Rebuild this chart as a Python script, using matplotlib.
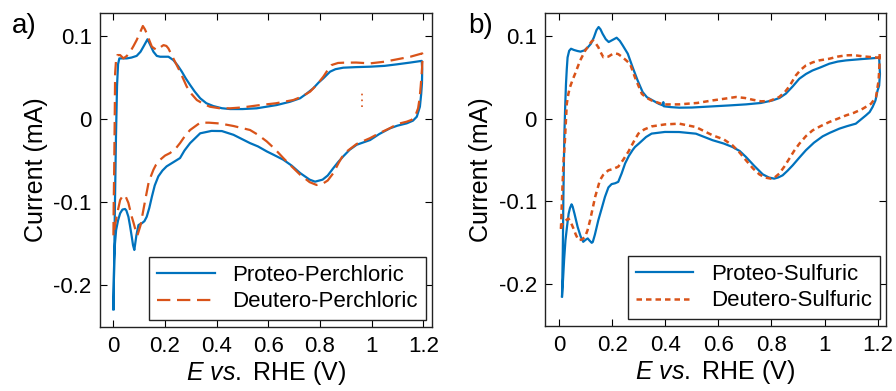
import numpy as np
import matplotlib
matplotlib.use("Agg")
import matplotlib.pyplot as plt

plt.rcParams['font.family'] = ['Liberation Sans', 'DejaVu Sans']
plt.rcParams['mathtext.fontset'] = 'custom'
plt.rcParams['mathtext.rm'] = 'Liberation Sans'
plt.rcParams['mathtext.it'] = 'Liberation Sans:italic'

# ---------------- data (E in V vs RHE, current in mA) ----------------
# Panel a: perchloric
a_proteo = [
    (0.000, -0.229), (0.003, -0.17), (0.006, -0.10), (0.010, -0.02), (0.014, 0.04),
    (0.018, 0.066), (0.023, 0.073), (0.035, 0.073), (0.052, 0.073), (0.07, 0.074),
    (0.09, 0.076), (0.105, 0.081), (0.116, 0.087), (0.132, 0.096), (0.143, 0.089),
    (0.155, 0.081), (0.168, 0.076), (0.181, 0.075), (0.2, 0.075), (0.213, 0.075),
    (0.232, 0.071), (0.25, 0.064), (0.265, 0.057), (0.28, 0.049), (0.297, 0.041),
    (0.315, 0.033), (0.336, 0.025), (0.36, 0.019), (0.387, 0.0156), (0.42, 0.013),
    (0.452, 0.012), (0.5, 0.012), (0.555, 0.0129), (0.632, 0.0168), (0.684, 0.0208),
    (0.723, 0.025), (0.75, 0.031), (0.774, 0.037), (0.795, 0.044), (0.813, 0.049),
    (0.839, 0.057), (0.86, 0.060), (0.89, 0.0618), (0.94, 0.0625), (0.994, 0.063),
    (1.05, 0.064), (1.097, 0.0658), (1.15, 0.068), (1.194, 0.070),
    (1.196, 0.060), (1.195, 0.043), (1.192, 0.03), (1.187, 0.0148), (1.175, 0.0028),
    (1.16, -0.002), (1.136, -0.0052), (1.1, -0.008), (1.071, -0.0112), (1.03, -0.018),
    (0.994, -0.0253), (0.942, -0.031), (0.915, -0.037), (0.89, -0.045), (0.87, -0.052),
    (0.852, -0.059), (0.83, -0.068), (0.81, -0.073), (0.781, -0.0754), (0.76, -0.073),
    (0.723, -0.065), (0.69, -0.056), (0.658, -0.049), (0.62, -0.043), (0.594, -0.039),
    (0.56, -0.033), (0.529, -0.029), (0.465, -0.019), (0.42, -0.0145), (0.38, -0.0143),
    (0.336, -0.0172), (0.297, -0.029), (0.275, -0.038), (0.258, -0.047), (0.232, -0.052),
    (0.206, -0.057), (0.19, -0.062), (0.174, -0.069), (0.16, -0.08), (0.149, -0.0935),
    (0.139, -0.107), (0.129, -0.1176), (0.12, -0.123), (0.11, -0.1255), (0.097, -0.1276),
    (0.089, -0.14), (0.081, -0.1576), (0.076, -0.152), (0.071, -0.1416), (0.064, -0.128),
    (0.058, -0.1176), (0.05, -0.110), (0.045, -0.1083), (0.035, -0.109), (0.026, -0.1135),
    (0.018, -0.122), (0.0105, -0.1336), (0.006, -0.15), (0.003, -0.17), (0.0, -0.229),
]
a_deutero = [
    (0.0, -0.14), (0.001, -0.105), (0.003, -0.06), (0.005, 0.0), (0.0066, 0.055),
    (0.01, 0.07), (0.0155, 0.077), (0.026, 0.077), (0.039, 0.073), (0.052, 0.076),
    (0.065, 0.081), (0.078, 0.088), (0.09, 0.095), (0.103, 0.104), (0.114, 0.112),
    (0.122, 0.108), (0.129, 0.103), (0.14, 0.094), (0.149, 0.087), (0.168, 0.083),
    (0.18, 0.086), (0.194, 0.089), (0.205, 0.088), (0.213, 0.085), (0.232, 0.073),
    (0.258, 0.057), (0.284, 0.039), (0.303, 0.030), (0.323, 0.0229), (0.35, 0.018),
    (0.374, 0.0148), (0.41, 0.013), (0.452, 0.0129), (0.5, 0.014), (0.568, 0.0168),
    (0.63, 0.019), (0.697, 0.0229), (0.73, 0.027), (0.762, 0.033), (0.79, 0.042),
    (0.813, 0.051), (0.83, 0.059), (0.845, 0.065), (0.87, 0.0675), (0.89, 0.0678),
    (0.94, 0.068), (0.994, 0.067), (1.05, 0.069), (1.097, 0.0718), (1.15, 0.075),
    (1.196, 0.079),
    (1.197, 0.07), (1.194, 0.055), (1.19, 0.039), (1.186, 0.025), (1.18, 0.0129),
    (1.168, 0.0028), (1.155, -0.001), (1.136, -0.0032), (1.1, -0.006), (1.071, -0.011),
    (1.03, -0.017), (0.994, -0.023), (0.942, -0.030), (0.904, -0.039), (0.885, -0.046),
    (0.872, -0.053), (0.852, -0.065), (0.83, -0.074), (0.81, -0.078), (0.787, -0.0794),
    (0.76, -0.076), (0.723, -0.067), (0.69, -0.057), (0.658, -0.047), (0.625, -0.036),
    (0.594, -0.027), (0.56, -0.019), (0.529, -0.0132), (0.465, -0.0084), (0.413, -0.0054),
    (0.37, -0.0044), (0.336, -0.0044), (0.297, -0.0132), (0.278, -0.02), (0.258, -0.029),
    (0.24, -0.036), (0.219, -0.041), (0.2, -0.044), (0.181, -0.049), (0.165, -0.055),
    (0.155, -0.061), (0.145, -0.069), (0.136, -0.077), (0.126, -0.093), (0.116, -0.1095),
    (0.105, -0.128), (0.093, -0.14), (0.085, -0.133), (0.078, -0.125), (0.071, -0.1176),
    (0.058, -0.101), (0.045, -0.0915), (0.035, -0.093), (0.026, -0.0975), (0.018, -0.109),
    (0.01, -0.1215), (0.004, -0.132), (0.0, -0.14),
]
a_deutero_stray = [(0.962, 0.014), (0.962, 0.033)]

# Panel b: sulfuric
b_proteo = [
    (0.01, -0.2145), (0.013, -0.16), (0.015, -0.0986), (0.017, -0.055), (0.019, -0.018),
    (0.022, 0.015), (0.025, 0.042), (0.028, 0.06), (0.031, 0.074), (0.037, 0.082),
    (0.044, 0.0845), (0.055, 0.083), (0.069, 0.0817), (0.08, 0.081), (0.094, 0.0825),
    (0.107, 0.086), (0.119, 0.0905), (0.13, 0.098), (0.14, 0.107), (0.148, 0.1107),
    (0.155, 0.108), (0.163, 0.1026), (0.175, 0.096), (0.186, 0.0926), (0.2, 0.095),
    (0.216, 0.0978), (0.228, 0.094), (0.239, 0.0885), (0.258, 0.0785), (0.276, 0.0624),
    (0.295, 0.0463), (0.314, 0.0322), (0.33, 0.026), (0.352, 0.0221), (0.375, 0.018),
    (0.39, 0.0161), (0.392, 0.020), (0.394, 0.015), (0.42, 0.014), (0.452, 0.0133),
    (0.5, 0.0135), (0.578, 0.0149), (0.64, 0.016), (0.704, 0.0173), (0.76, 0.019),
    (0.804, 0.0221), (0.83, 0.025), (0.854, 0.0302), (0.88, 0.039), (0.905, 0.0483),
    (0.93, 0.054), (0.955, 0.0583), (0.985, 0.062), (1.018, 0.0664), (1.05, 0.069),
    (1.081, 0.0704), (1.14, 0.072), (1.206, 0.0736),
    (1.209, 0.054), (1.206, 0.04), (1.2, 0.034), (1.192, 0.022), (1.181, 0.014),
    (1.17, 0.008), (1.156, 0.004), (1.118, -0.006), (1.085, -0.009), (1.056, -0.012),
    (1.02, -0.017), (0.993, -0.0213), (0.96, -0.029), (0.93, -0.038), (0.905, -0.047),
    (0.88, -0.0563), (0.86, -0.063), (0.842, -0.0684), (0.825, -0.071), (0.81, -0.0724),
    (0.79, -0.071), (0.767, -0.0672), (0.735, -0.057), (0.704, -0.0463), (0.68, -0.039),
    (0.653, -0.0342), (0.62, -0.03), (0.578, -0.026), (0.515, -0.0181), (0.452, -0.0161),
    (0.398, -0.016), (0.348, -0.018), (0.327, -0.0221), (0.3, -0.03), (0.285, -0.0342),
    (0.276, -0.038), (0.262, -0.045), (0.248, -0.054), (0.235, -0.066), (0.222, -0.0763),
    (0.21, -0.078), (0.197, -0.079), (0.185, -0.083), (0.172, -0.0944), (0.16, -0.108),
    (0.147, -0.1225), (0.134, -0.14), (0.126, -0.1489), (0.122, -0.1499), (0.113, -0.1469),
    (0.107, -0.1446), (0.1, -0.146), (0.09, -0.1487), (0.08, -0.142), (0.069, -0.1308),
    (0.057, -0.1147), (0.05, -0.106), (0.046, -0.1034), (0.04, -0.108), (0.035, -0.1147),
    (0.029, -0.13), (0.023, -0.1469), (0.018, -0.17), (0.013, -0.1992), (0.01, -0.2145),
]
b_deutero = [
    (0.006, -0.133), (0.009, -0.105), (0.012, -0.08), (0.016, -0.05), (0.021, -0.026),
    (0.028, 0.018), (0.034, 0.03), (0.04, 0.038), (0.05, 0.047), (0.059, 0.054),
    (0.078, 0.070), (0.097, 0.082), (0.11, 0.088), (0.122, 0.0935), (0.128, 0.0943),
    (0.137, 0.091), (0.147, 0.0863), (0.156, 0.08), (0.166, 0.0742), (0.185, 0.075),
    (0.2, 0.078), (0.21, 0.079), (0.222, 0.078), (0.235, 0.075), (0.25, 0.071),
    (0.267, 0.066), (0.285, 0.050), (0.311, 0.030), (0.33, 0.025), (0.348, 0.022),
    (0.392, 0.0172), (0.452, 0.0173), (0.52, 0.019), (0.578, 0.0221), (0.62, 0.024),
    (0.666, 0.0262), (0.7, 0.025), (0.729, 0.0229), (0.76, 0.021), (0.792, 0.0213),
    (0.829, 0.0262), (0.85, 0.032), (0.867, 0.039), (0.892, 0.0523), (0.91, 0.059),
    (0.93, 0.0644), (0.955, 0.068), (0.98, 0.0704), (1.018, 0.0724), (1.05, 0.075),
    (1.081, 0.0765), (1.11, 0.0768), (1.144, 0.0753), (1.206, 0.0736),
    (1.208, 0.079), (1.207, 0.0644), (1.204, 0.0463), (1.194, 0.026), (1.175, 0.018),
    (1.144, 0.012), (1.11, 0.007), (1.081, 0.004), (1.05, 0.0), (1.018, -0.004),
    (0.985, -0.009), (0.955, -0.0141), (0.93, -0.021), (0.905, -0.0302), (0.885, -0.039),
    (0.867, -0.0483), (0.848, -0.058), (0.829, -0.0664), (0.812, -0.071), (0.798, -0.0724),
    (0.775, -0.071), (0.754, -0.0672), (0.73, -0.06), (0.704, -0.0503), (0.68, -0.041),
    (0.653, -0.0322), (0.62, -0.025), (0.578, -0.0201), (0.515, -0.0101), (0.452, -0.006),
    (0.398, -0.0069), (0.348, -0.0093), (0.32, -0.013), (0.298, -0.018), (0.28, -0.028),
    (0.26, -0.040), (0.24, -0.05), (0.222, -0.058), (0.2, -0.061), (0.185, -0.0623),
    (0.165, -0.068), (0.153, -0.0743), (0.135, -0.0944), (0.116, -0.1225), (0.106, -0.135),
    (0.097, -0.1426), (0.085, -0.146), (0.072, -0.1466), (0.062, -0.14), (0.053, -0.1325),
    (0.043, -0.125), (0.034, -0.1205), (0.02, -0.124), (0.009, -0.1285), (0.006, -0.133),
]

x_ticks = [0, 0.2, 0.4, 0.6, 0.8, 1.0, 1.2]
x_ticklabels = ["0", "0.2", "0.4", "0.6", "0.8", "1", "1.2"]
y_ticks = [-0.2, -0.1, 0, 0.1]
y_ticklabels = ["-0.2", "-0.1", "0", "0.1"]

labels_a = ["Proteo-Perchloric", "Deutero-Perchloric"]
labels_b = ["Proteo-Sulfuric", "Deutero-Sulfuric"]

BLUE = "#0072BD"
ORANGE = "#D95319"

# ---------------- figure ----------------
fig = plt.figure(figsize=(8.96, 3.91), dpi=100)
ax1 = fig.add_axes([0.1116, 0.1645, 0.370, 0.803])
ax2 = fig.add_axes([0.6086, 0.167, 0.380, 0.8005])


def style(ax, xlim):
    ax.set_xlim(*xlim)
    ax.set_ylim(-0.25, 0.128)
    ax.set_xticks(x_ticks)
    ax.set_xticklabels(x_ticklabels)
    ax.set_yticks(y_ticks)
    ax.set_yticklabels(y_ticklabels)
    ax.tick_params(direction='in', top=True, right=True, length=5, width=0.8,
                   labelsize=16, colors='black')
    ax.tick_params(axis='x', pad=7)
    ax.tick_params(axis='y', pad=6)
    for s in ax.spines.values():
        s.set_linewidth(1.0)
        s.set_color('#222222')
    ax.set_xlabel(r'$E\ vs.$ RHE (V)', fontsize=18, labelpad=1)
    ax.set_ylabel('Current (mA)', fontsize=18, labelpad=4)


pa = np.array(a_proteo)
da = np.array(a_deutero)
sa = np.array(a_deutero_stray)
ax1.plot(pa[:, 0], pa[:, 1], color=BLUE, lw=1.6, label=labels_a[0])
ax1.plot(da[:, 0], da[:, 1], color=ORANGE, lw=1.6, dashes=(6, 3), label=labels_a[1])
ax1.plot(sa[:, 0], sa[:, 1], color=ORANGE, lw=1.2, linestyle=(0, (1, 2.5)))
style(ax1, (-0.052, 1.232))
leg1 = ax1.legend(loc='lower right', bbox_to_anchor=(0.983, 0.021), fontsize=16,
                  frameon=True, fancybox=False, edgecolor='#222222', framealpha=1,
                  borderaxespad=0, handlelength=2.6, handletextpad=0.8,
                  borderpad=0.35, labelspacing=0.25)
leg1.get_frame().set_linewidth(1.0)

pb = np.array(b_proteo)
db = np.array(b_deutero)
ax2.plot(pb[:, 0], pb[:, 1], color=BLUE, lw=1.6, label=labels_b[0])
ax2.plot(db[:, 0], db[:, 1], color=ORANGE, lw=1.8, dashes=(2.2, 1.6), label=labels_b[1])
style(ax2, (-0.053, 1.231))
leg2 = ax2.legend(loc='lower right', bbox_to_anchor=(0.983, 0.021), fontsize=16,
                  frameon=True, fancybox=False, edgecolor='#222222', framealpha=1,
                  borderaxespad=0, handlelength=2.6, handletextpad=0.8,
                  borderpad=0.35, labelspacing=0.25)
leg2.get_frame().set_linewidth(1.0)

fig.text(0.013, 0.915, 'a)', fontsize=20, ha='left', va='baseline')
fig.text(0.522, 0.915, 'b)', fontsize=20, ha='left', va='baseline')

fig.savefig('out.png', dpi=100)
